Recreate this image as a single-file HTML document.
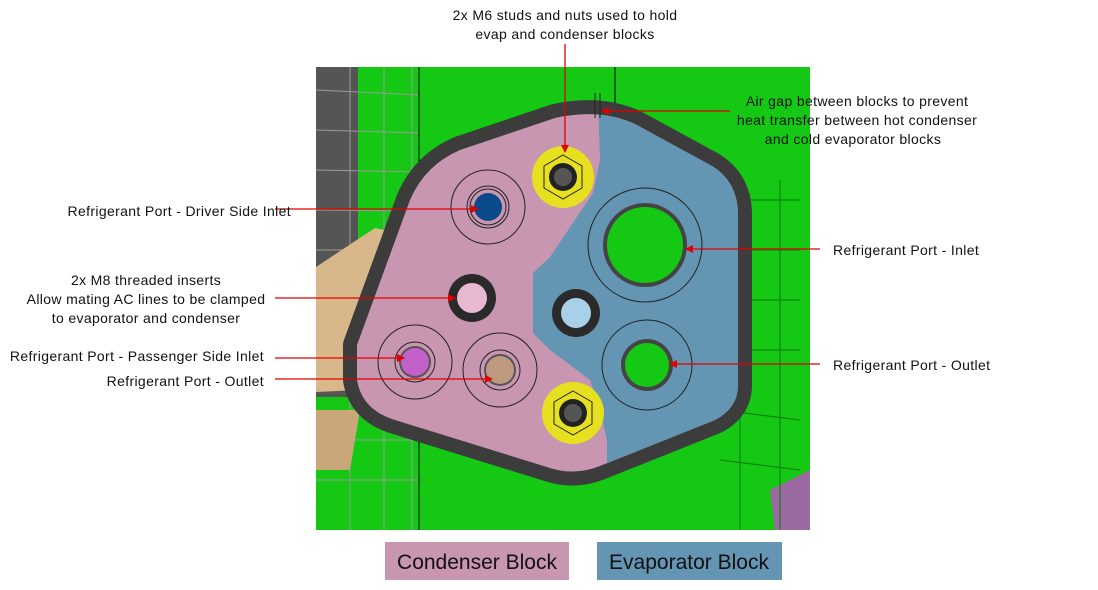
<!DOCTYPE html>
<html><head><meta charset="utf-8"><style>
html,body{margin:0;padding:0;background:#fff;}
svg{display:block;font-family:"Liberation Sans",sans-serif;}
.t{white-space:pre;}
</style></head><body>
<svg width="1098" height="590" viewBox="0 0 1098 590" xmlns="http://www.w3.org/2000/svg">
<defs>
<marker id="a" markerWidth="8" markerHeight="8" refX="7" refY="4" orient="auto" markerUnits="userSpaceOnUse"><path d="M0,0 L8,4 L0,8 z" fill="#e00000"/></marker>
<clipPath id="c"><rect x="316" y="67" width="494" height="463"/></clipPath>
<clipPath id="ic"><path d="M357,345 L410,200 Q425,165 460,150 L555,118 Q600,108 635,124 L712,166 Q738,182 738,215 L738,385 Q738,408 715,420 L600,466 Q575,476 550,468 L395,420 Q362,410 357,380 Z"/></clipPath>
</defs>
<rect width="1098" height="590" fill="#fff"/>
<g clip-path="url(#c)">
<rect x="316" y="67" width="494" height="463" fill="#14c814"/>
<rect x="316" y="67" width="42" height="330" fill="#555"/>
<g stroke="#9a9a9a" stroke-width="1">
<line x1="316" y1="90" x2="420" y2="95"/><line x1="316" y1="130" x2="420" y2="133"/><line x1="316" y1="170" x2="420" y2="172"/><line x1="316" y1="210" x2="420" y2="211"/><line x1="316" y1="250" x2="420" y2="250"/><line x1="316" y1="440" x2="420" y2="440"/><line x1="316" y1="480" x2="420" y2="480"/>
<line x1="350" y1="67" x2="350" y2="530"/><line x1="384" y1="67" x2="384" y2="530"/><line x1="412" y1="67" x2="412" y2="530"/>
</g>
<line x1="419" y1="67" x2="419" y2="530" stroke="#000" stroke-width="1"/>
<line x1="615" y1="67" x2="615" y2="110" stroke="#000"/>
<path d="M316,267 L375,228 L393,232 L385,300 L360,390 L316,392 z" fill="#d8b88a"/>
<path d="M316,410 L360,410 L350,470 L316,470 z" fill="#c9a77a"/>
<path d="M770,490 L810,470 L810,530 L775,530 z" fill="#9a6aa0"/>
<g stroke="#0a7a0a" fill="none"><path d="M730,200 L800,200 M725,250 L800,250 M725,300 L800,300 M730,350 L800,350 M720,410 L800,420 M720,460 L800,470 M740,180 L740,530 M780,180 L780,530"/></g>
<path d="M357,345 L410,200 Q425,165 460,150 L555,118 Q600,108 635,124 L712,166 Q738,182 738,215 L738,385 Q738,408 715,420 L600,466 Q575,476 550,468 L395,420 Q362,410 357,380 Z" fill="none" stroke="#3c3c3c" stroke-width="28" stroke-linejoin="round"/>
<path d="M357,345 L410,200 Q425,165 460,150 L555,118 Q600,108 635,124 L712,166 Q738,182 738,215 L738,385 Q738,408 715,420 L600,466 Q575,476 550,468 L395,420 Q362,410 357,380 Z" fill="#c896b0"/>
<path clip-path="url(#ic)" d="M598,100 L760,100 L760,480 L607,480 L607,440 L600,410 L590,380 L550,350 L533,333 L533,273 L550,257 L593,193 L600,160 Z" fill="#6496b4"/>
<g fill="none" stroke="#222" stroke-width="1">
<circle cx="488" cy="207" r="37"/><circle cx="488" cy="207" r="21"/><circle cx="488" cy="207" r="18"/>
<circle cx="645" cy="245" r="57"/><circle cx="415" cy="362" r="37"/><circle cx="415" cy="362" r="20"/>
<circle cx="500" cy="370" r="37"/><circle cx="500" cy="370" r="20"/><circle cx="647" cy="365" r="45"/>
</g>
<circle cx="488" cy="207" r="14" fill="#0a4a8a"/>
<circle cx="645" cy="245" r="42" fill="#444"/><circle cx="645" cy="245" r="38" fill="#14c814"/>
<circle cx="647" cy="365" r="26" fill="#444"/><circle cx="647" cy="365" r="22" fill="#14c814"/>
<circle cx="415" cy="362" r="16" fill="#555"/><circle cx="415" cy="362" r="14" fill="#c060c8"/>
<circle cx="500" cy="370" r="16" fill="#555"/><circle cx="500" cy="370" r="14" fill="#c09a80"/>
<circle cx="472" cy="298" r="24" fill="#2a2a2a"/><circle cx="472" cy="298" r="15" fill="#e8b8d0"/>
<circle cx="576" cy="313" r="24" fill="#2a2a2a"/><circle cx="576" cy="313" r="15" fill="#a8d0e8"/>
<circle cx="563" cy="177" r="31" fill="#e6e020"/><polygon points="563,155 582,166 582,188 563,199 544,188 544,166" fill="none" stroke="#222"/><circle cx="563" cy="177" r="14" fill="#222"/><circle cx="563" cy="177" r="9" fill="#555"/>
<circle cx="573" cy="413" r="31" fill="#e6e020"/><polygon points="573,391 592,402 592,424 573,435 554,424 554,402" fill="none" stroke="#222"/><circle cx="573" cy="413" r="14" fill="#222"/><circle cx="573" cy="413" r="9" fill="#555"/>
<line x1="595" y1="93" x2="595" y2="118" stroke="#222"/><line x1="600" y1="93" x2="600" y2="118" stroke="#222"/>
</g>
<g stroke="#e00000" stroke-width="1.3" fill="none">
<line x1="565" y1="44" x2="565" y2="152" marker-end="url(#a)"/>
<line x1="730" y1="111" x2="602" y2="111" marker-end="url(#a)"/>
<line x1="275" y1="209" x2="478" y2="209" marker-end="url(#a)"/>
<line x1="275" y1="298" x2="455" y2="298" marker-end="url(#a)"/>
<line x1="275" y1="358" x2="404" y2="358" marker-end="url(#a)"/>
<line x1="275" y1="379" x2="492" y2="379" marker-end="url(#a)"/>
<line x1="820" y1="249" x2="686" y2="249" marker-end="url(#a)"/>
<line x1="820" y1="364" x2="670" y2="364" marker-end="url(#a)"/>
</g>
<g font-size="14" fill="#111" letter-spacing="0.35" class="t">
<text x="565" y="20" text-anchor="middle">2x M6 studs and nuts used to hold</text>
<text x="565" y="39" text-anchor="middle">evap and condenser blocks</text>
<text x="857" y="106" text-anchor="middle">Air gap between blocks to prevent</text>
<text x="857" y="125" text-anchor="middle">heat transfer between hot condenser</text>
<text x="853" y="144" text-anchor="middle">and cold evaporator blocks</text>
<text x="291" y="216" text-anchor="end">Refrigerant Port -  Driver Side Inlet</text>
<text x="146" y="285" text-anchor="middle">2x M8 threaded inserts</text>
<text x="146" y="304" text-anchor="middle">Allow mating AC lines to be clamped</text>
<text x="146" y="323" text-anchor="middle">to evaporator and condenser</text>
<text x="264" y="361" text-anchor="end">Refrigerant Port -  Passenger Side Inlet</text>
<text x="264" y="386" text-anchor="end">Refrigerant Port -  Outlet</text>
<text x="833" y="255">Refrigerant Port -  Inlet</text>
<text x="833" y="370">Refrigerant Port -  Outlet</text>
</g>
<rect x="385" y="542" width="184" height="38" fill="#c896b0"/>
<rect x="597" y="542" width="185" height="38" fill="#6496b4"/>
<text x="477" y="569" font-size="21" text-anchor="middle" fill="#111">Condenser Block</text>
<text x="689" y="569" font-size="21" text-anchor="middle" fill="#111">Evaporator Block</text>
</svg>
</body></html>
